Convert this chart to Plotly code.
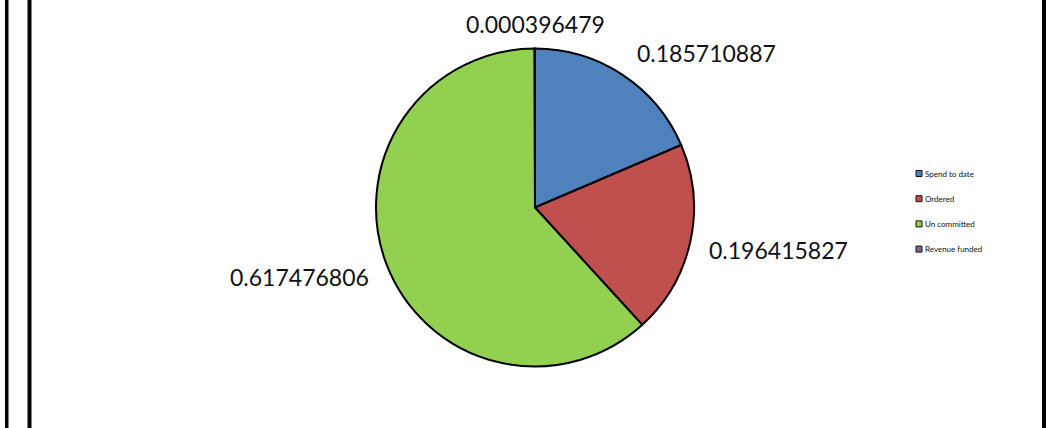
import plotly.graph_objects as go

# Budget breakdown shares
categories = ["Spend to date", "Ordered", "Un committed", "Revenue funded"]
shares = [0.185710887, 0.196415827, 0.617476806, 0.000396479]
colors = ["#4F81BD", "#C0504D", "#92D050", "#8064A2"]

W, H = 1046, 428

# Pie geometry in pixels
cx, cy, r = 535, 207.5, 159


def px(x):
    return x / W


def py(y):
    return 1 - y / H


fig = go.Figure()
fig.add_trace(go.Pie(
    labels=categories,
    values=shares,
    sort=False,
    direction="clockwise",
    rotation=0,
    marker=dict(colors=colors, line=dict(color="black", width=2)),
    textinfo="none",
    hoverinfo="label+value",
    showlegend=False,
    domain=dict(x=[px(cx - r), px(cx + r)], y=[py(cy + r), py(cy - r)]),
))

# Value labels placed around the pie (pixel centres)
label_pos = {
    "Spend to date": (706, 53),
    "Ordered": (778, 250),
    "Un committed": (299, 277),
    "Revenue funded": (535, 24),
}
annotations = []
for name, val in zip(categories, shares):
    lx, ly = label_pos[name]
    annotations.append(dict(
        x=px(lx), y=py(ly), xref="paper", yref="paper",
        text=f"{val:.9f}",
        showarrow=False, xanchor="center", yanchor="middle",
        font=dict(family="Lato", size=23, color="#111111"),
    ))

# Legend drawn as small outlined squares with labels
shapes = []
leg_x, leg_y0, leg_dy, sq = 916, 173.5, 25.2, 6
for i, (name, col) in enumerate(zip(categories, colors)):
    yc = leg_y0 + i * leg_dy
    shapes.append(dict(
        type="rect", xref="paper", yref="paper",
        x0=px(leg_x), x1=px(leg_x + sq), y0=py(yc + sq / 2), y1=py(yc - sq / 2),
        fillcolor=col, line=dict(color="#111111", width=1),
    ))
    annotations.append(dict(
        x=px(leg_x + sq + 1), y=py(yc), xref="paper", yref="paper",
        text=name, showarrow=False, xanchor="left", yanchor="middle",
        font=dict(family="Lato", size=8, color="#111111"),
    ))

# Frame lines at the sides
for x0, x1 in [(5, 8.5), (27.5, 31.5), (1042, 1046)]:
    shapes.append(dict(
        type="rect", xref="paper", yref="paper",
        x0=px(x0), x1=px(x1), y0=0, y1=1,
        fillcolor="black", line=dict(width=0),
    ))

fig.update_layout(
    width=W, height=H,
    margin=dict(l=0, r=0, t=0, b=0),
    paper_bgcolor="white",
    plot_bgcolor="white",
    annotations=annotations,
    shapes=shapes,
)

fig.write_html("out.html")
